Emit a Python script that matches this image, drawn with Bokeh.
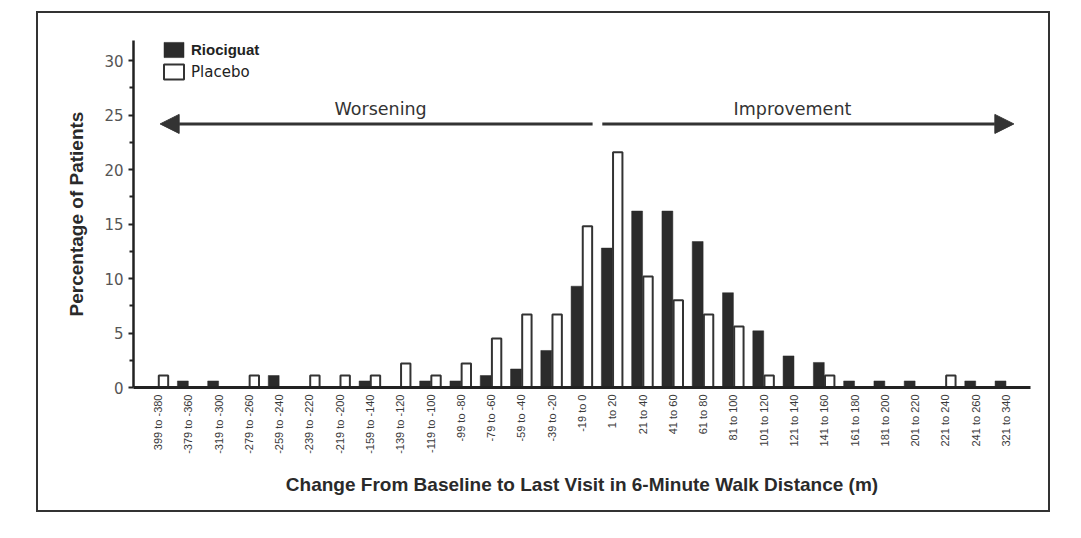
import math
from bokeh.plotting import figure
from bokeh.models import (ColumnDataSource, FactorRange, Range1d, FixedTicker, Arrow,
                          NormalHead, Label, Legend, LegendItem)
from bokeh.transform import dodge
from bokeh.embed import file_html
from bokeh.resources import INLINE

# change in 6MWD bins (as printed on the original figure)
bins = ["399 to -380", "-379 to -360", "-319 to -300", "-279 to -260", "-259 to -240",
        "-239 to -220", "-219 to -200", "-159 to -140", "-139 to -120", "-119 to -100",
        "-99 to -80", "-79 to -60", "-59 to -40", "-39 to -20", "-19 to 0",
        "1 to 20", "21 to 40", "41 to 60", "61 to 80", "81 to 100",
        "101 to 120", "121 to 140", "141 to 160", "161 to 180", "181 to 200",
        "201 to 220", "221 to 240", "241 to 260", "321 to 340"]

# percentage of patients
riociguat = [0, 0.6, 0.6, 0, 1.1, 0, 0, 0.6, 0, 0.6,
             0.6, 1.1, 1.7, 3.4, 9.3, 12.8, 16.2, 16.2, 13.4, 8.7,
             5.2, 2.9, 2.3, 0.6, 0.6, 0.6, 0, 0.6, 0.6]
placebo = [1.1, 0, 0, 1.1, 0, 1.1, 1.1, 1.1, 2.2, 1.1,
           2.2, 4.5, 6.7, 6.7, 14.8, 21.6, 10.2, 8.0, 6.7, 5.6,
           1.1, 0, 1.1, 0, 0, 0, 1.1, 0, 0]

y_ticks = [0, 5, 10, 15, 20, 25, 30]
y_minor = [2.5, 7.5, 12.5, 17.5, 22.5, 27.5]

src = ColumnDataSource(data=dict(bin=bins, riociguat=riociguat, placebo=placebo))

DARK = "#2b2b2b"
LINE = "#333333"

# the figure itself is the framed box of the original
p = figure(x_range=FactorRange(*bins, range_padding=0.31, range_padding_units="absolute"),
           y_range=Range1d(0, 31.86), width=1014, height=501,
           output_backend="svg", toolbar_location=None,
           min_border_left=95, min_border_right=22, min_border_top=27, min_border_bottom=127,
           margin=(11, 0, 0, 36))
p.styles = {"border": "2.5px solid #333333"}

r1 = p.vbar(x=dodge("bin", -0.18, range=p.x_range), top="riociguat", width=0.36, source=src,
            fill_color=DARK, line_color=DARK, line_width=0.5)
r2 = p.vbar(x=dodge("bin", 0.18, range=p.x_range), top="placebo", width=0.31, source=src,
            fill_color="white", line_color=LINE, line_width=2)

p.xgrid.grid_line_color = None
p.ygrid.grid_line_color = None
p.outline_line_color = None

# y axis
p.yaxis.ticker = FixedTicker(ticks=y_ticks, minor_ticks=y_minor)
p.yaxis.axis_label = "Percentage of Patients"
p.yaxis.axis_line_width = 2.5
p.yaxis.axis_line_color = "#222222"
p.yaxis.major_tick_out = 5
p.yaxis.major_tick_in = 0
p.yaxis.minor_tick_out = 4
p.yaxis.minor_tick_in = 0
p.yaxis.major_tick_line_width = 2
p.yaxis.minor_tick_line_width = 2
p.yaxis.major_tick_line_color = "#222222"
p.yaxis.minor_tick_line_color = "#222222"
p.yaxis.major_label_text_font = "DejaVu Sans"
p.yaxis.major_label_text_font_size = "15px"
p.yaxis.major_label_text_color = "#555555"
p.yaxis.major_label_standoff = 5
p.yaxis.axis_label_standoff = 14
p.yaxis.axis_label_text_font = "Liberation Sans"
p.yaxis.axis_label_text_font_style = "bold"
p.yaxis.axis_label_text_font_size = "19px"
p.yaxis.axis_label_text_color = "#2a2a2a"

# x axis
p.xaxis.axis_label = "Change From Baseline to Last Visit in 6-Minute Walk Distance (m)"
p.xaxis.axis_line_width = 3
p.xaxis.axis_line_color = "#222222"
p.xaxis.major_tick_line_color = None
p.xaxis.major_tick_out = 0
p.xaxis.major_tick_in = 0
p.xaxis.major_label_orientation = math.pi / 2
p.xaxis.major_label_standoff = 7
p.xaxis.major_label_text_font = "Liberation Sans"
p.xaxis.major_label_text_font_size = "11px"
p.xaxis.major_label_text_color = "#3a3a3a"
p.xaxis.axis_label_standoff = 17
p.xaxis.axis_label_text_font = "Liberation Sans"
p.xaxis.axis_label_text_font_style = "bold"
p.xaxis.axis_label_text_font_size = "19px"
p.xaxis.axis_label_text_color = "#2a2a2a"

# legends (one per entry, first one bold)
leg_style = dict(glyph_width=25, glyph_height=19, label_height=15, label_standoff=5,
                 padding=0, margin=0, spacing=0, border_line_color=None,
                 background_fill_alpha=0, label_text_font_size="15px",
                 label_text_color="#222222")
leg1 = Legend(items=[LegendItem(label="Riociguat", renderers=[r1])], location=(28, 328),
              label_text_font="Liberation Sans", label_text_font_style="bold", **leg_style)
leg2 = Legend(items=[LegendItem(label="Placebo", renderers=[r2])], location=(28, 306),
              label_text_font="DejaVu Sans", **leg_style)
p.add_layout(leg1)
p.add_layout(leg2)

# worsening / improvement arrows
arrow_y = 24.2
p.add_layout(Arrow(end=NormalHead(size=19, fill_color=LINE, line_color=LINE),
                   x_start=14.85, y_start=arrow_y, x_end=0.57, y_end=arrow_y,
                   line_width=3, line_color=LINE))
p.add_layout(Arrow(end=NormalHead(size=19, fill_color=LINE, line_color=LINE),
                   x_start=15.17, y_start=arrow_y, x_end=28.76, y_end=arrow_y,
                   line_width=3, line_color=LINE))
for tx, txt in [(7.85, "Worsening"), (21.45, "Improvement")]:
    p.add_layout(Label(x=tx, y=25.53, text=txt, text_align="center", text_baseline="alphabetic",
                       text_font="DejaVu Sans", text_font_size="17.5px", text_color=LINE))

open("out.html", "w").write(file_html(p, INLINE))
